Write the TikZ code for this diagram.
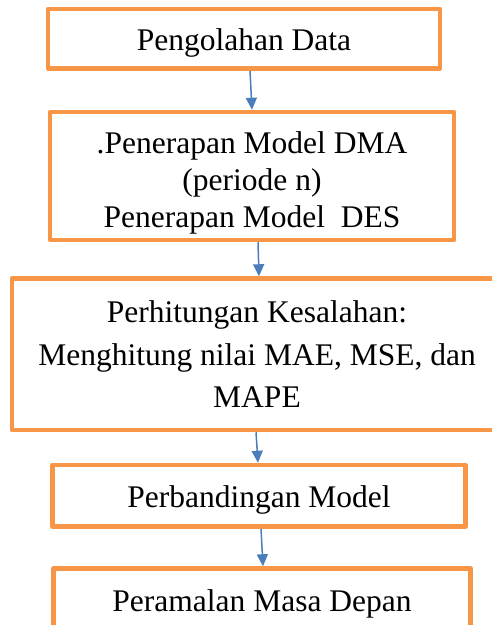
\documentclass[tikz,border=0pt]{standalone}
\usepackage{fontspec}
\setmainfont{Liberation Serif}
\usetikzlibrary{arrows.meta}
\definecolor{oranye}{RGB}{247,150,70}
\definecolor{biru}{RGB}{74,126,187}

\begin{document}
\begin{tikzpicture}[x=1pt,y=-1pt,font=\fontsize{31.5}{37}\selectfont,
  kotak/.style={draw=oranye,line width=4.5pt,line join=round,rectangle,align=center,inner sep=0pt},
  satubaris/.style={text height=24pt,text depth=0pt},
  panah/.style={draw=biru,line width=1.5pt,-{Triangle[width=11pt,length=12pt]}}]
  \useasboundingbox (0,0) rectangle (492,625);
  \clip (0,0) rectangle (492,625);
  \node[kotak,satubaris,minimum width=392pt,minimum height=59.5pt] (olah) at (244,38.75) {Pengolahan Data};
  \node[kotak,minimum width=404pt,minimum height=128pt] (terap) at (252,176)
    {\rule{0pt}{35pt}.Penerapan Model DMA\\(periode n)\\Penerapan Model\ \ DES};
  \node[kotak,minimum width=490pt,minimum height=151.5pt,font=\fontsize{31.5}{42.5}\selectfont] (hitung) at (257,354.25)
    {Perhitungan Kesalahan:\\Menghitung nilai MAE, MSE, dan\\MAPE};
  \node[kotak,satubaris,minimum width=413pt,minimum height=61.5pt] (banding) at (259,495.75) {Perbandingan Model};
  \node[kotak,satubaris,minimum width=417pt,minimum height=61.5pt] (ramal) at (262,599.25) {Peramalan Masa Depan};
  \draw[panah] ([xshift=6pt]olah.south) -- (terap.north);
  \draw[panah] ([xshift=6pt]terap.south) -- ([xshift=2pt]hitung.north);
  \draw[panah] ([xshift=-1pt]hitung.south) -- ([xshift=-1pt]banding.north);
  \draw[panah] ([xshift=2pt]banding.south) -- ([xshift=1pt]ramal.north);
\end{tikzpicture}
\end{document}
